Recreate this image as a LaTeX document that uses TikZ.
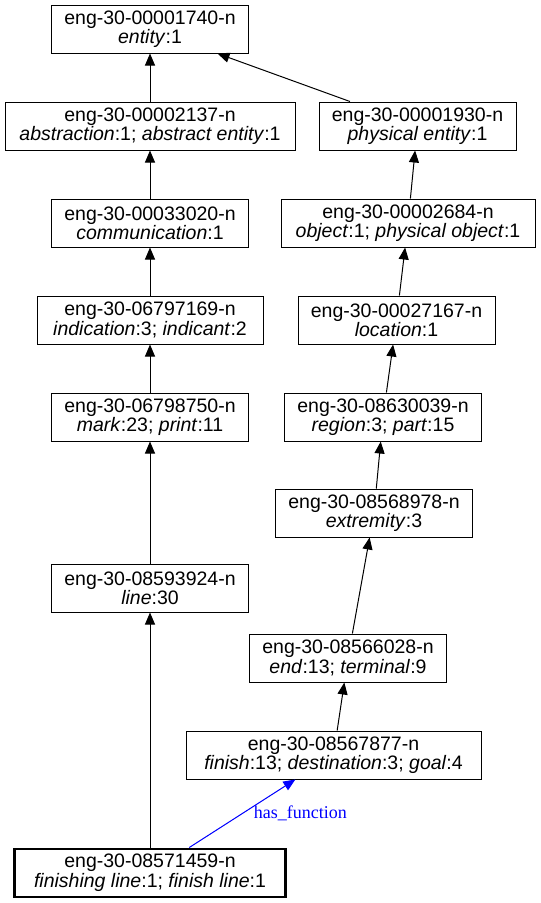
\documentclass[tikz,border=0pt]{standalone}
\usepackage{fontspec}
\setmainfont{Liberation Sans}
\newfontfamily\relfont{Liberation Serif}
\usetikzlibrary{arrows.meta, positioning}

\begin{document}
\begin{tikzpicture}[
        syn/.style={
            draw, align=center, minimum height=48pt, minimum width=197pt,
            inner xsep=6pt, inner ysep=2pt, line width=1pt,
            font=\fontsize{19.5pt}{17pt}\selectfont
        },
        focus/.style={syn, line width=2.4pt},
        arrow/.style={line width=1pt, -{Triangle[length=12pt, width=10pt]}},
        rel/.style={arrow, draw=blue, fill=blue},
        rellabel/.style={text=blue, inner sep=2pt, font=\relfont\fontsize{18pt}{18pt}\selectfont}
    ]
        \useasboundingbox (0,0) rectangle (541pt,-903pt);

        % Nodes (left column)
        \node[syn] (ent) at (150pt,-29pt) {eng-30-00001740-n \\ \textit{entity}:1};

        \node[syn, minimum width=290pt, below=48pt of ent] (abstr) {eng-30-00002137-n \\ \textit{abstraction}:1; \textit{abstract entity}:1};

        \node[syn, below=48pt of abstr] (comm) {eng-30-00033020-n \\ \textit{communication}:1};

        \node[syn, minimum width=226pt, below=48pt of comm] (indic) {eng-30-06797169-n \\ \textit{indication}:3; \textit{indicant}:2};

        \node[syn, below=48pt of indic] (mark) {eng-30-06798750-n \\ \textit{mark}:23; \textit{print}:11};

        \node[syn, below=122pt of mark] (line) {eng-30-08593924-n \\ \textit{line}:30};

        \node[focus, minimum width=271pt, below=235pt of line] (finln) {eng-30-08571459-n \\ \textit{finishing line}:1; \textit{finish line}:1};

        % Nodes (right column)
        \node[syn, right=23pt of abstr] (phys) {eng-30-00001930-n \\ \textit{physical entity}:1};

        \node[syn, minimum width=254pt, below=48pt of phys, xshift=-9.5pt] (obj) {eng-30-00002684-n \\ \textit{object}:1; \textit{physical object}:1};

        \node[syn, below=48pt of obj, xshift=-11.5pt] (loc) {eng-30-00027167-n \\ \textit{location}:1};

        \node[syn, below=48pt of loc, xshift=-13.5pt] (region) {eng-30-08630039-n \\ \textit{region}:3; \textit{part}:15};

        \node[syn, below=47pt of region, xshift=-9pt] (extr) {eng-30-08568978-n \\ \textit{extremity}:3};

        \node[syn, below=96pt of extr, xshift=-26pt] (end) {eng-30-08566028-n \\ \textit{end}:13; \textit{terminal}:9};

        \node[syn, minimum width=295pt, below=48pt of end, xshift=-14.5pt] (finish) {eng-30-08567877-n \\ \textit{finish}:13; \textit{destination}:3; \textit{goal}:4};

        % Edges
        \draw[arrow] (abstr) -- (ent);
        \draw[arrow] (phys) -- (ent);
        \draw[arrow] (comm) -- (abstr);
        \draw[arrow] (indic) -- (comm);
        \draw[arrow] (mark) -- (indic);
        \draw[arrow] (line) -- (mark);
        \draw[arrow] (finln) -- (line);
        \draw[arrow] (obj) -- (phys);
        \draw[arrow] (loc) -- (obj);
        \draw[arrow] (region) -- (loc);
        \draw[arrow] (extr) -- (region);
        \draw[arrow] (end) -- (extr);
        \draw[arrow] (finish) -- (end);
        \draw[rel] (finln) -- node[rellabel, right=9pt] {has\_function} (finish);

    \end{tikzpicture}
\end{document}
